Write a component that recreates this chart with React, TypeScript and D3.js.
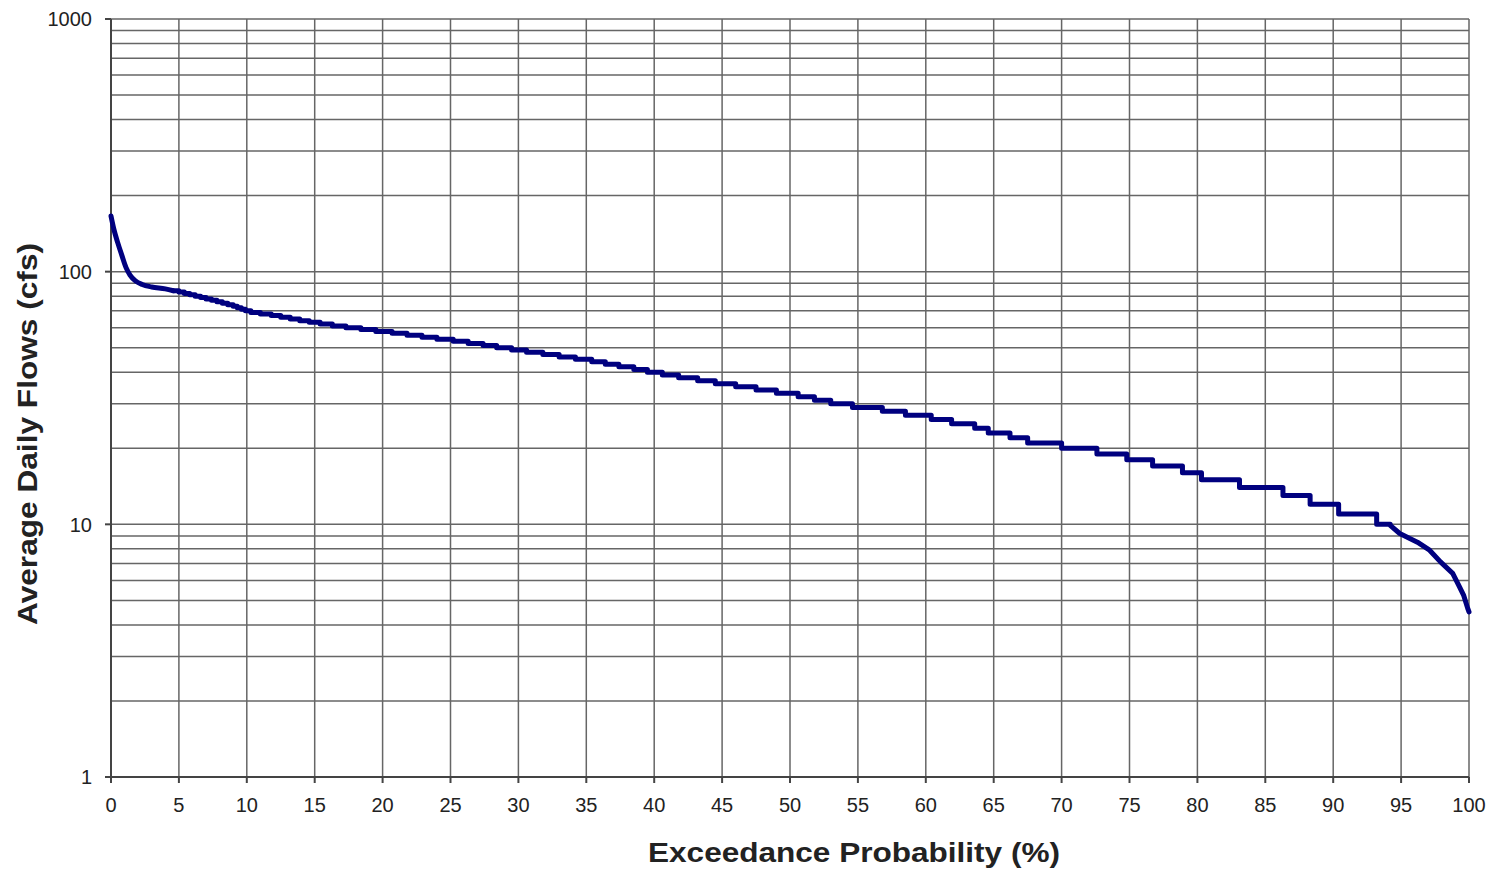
import React from "react";
import * as d3 from "d3";

// steep head of the curve (percent, cfs)
const headPct = [0, 0.2, 0.5, 0.8, 1.1, 1.4, 1.8, 2.3, 3.0, 4.0];
const headFlow = [166, 148, 130, 116, 104, 97, 92, 89, 87, 85.5];

// stepped part: integer flows and the exceedance (%) where each step starts
const stepFlow = [
  84, 83, 82, 81, 80, 79, 78, 77, 76, 75, 74, 73, 72, 71, 70, 69, 68, 67, 66, 65,
  64, 63, 62, 61, 60, 59, 58, 57, 56, 55, 54, 53, 52, 51, 50, 49, 48, 47, 46, 45,
  44, 43, 42, 41, 40, 39, 38, 37, 36, 35, 34, 33, 32, 31, 30, 29, 28, 27, 26, 25,
  24, 23, 22, 21, 20, 19, 18, 17, 16, 15, 14, 13, 12, 11, 10,
];
const stepStart = [
  4.6, 5.0, 5.4, 5.8, 6.2, 6.6, 7.0, 7.4, 7.8, 8.2, 8.6, 9.0, 9.3, 9.6, 9.9, 10.3, 11.0, 11.8, 12.5, 13.2,
  13.9, 14.6, 15.4, 16.3, 17.3, 18.4, 19.5, 20.7, 21.8, 22.9, 24.0, 25.2, 26.3, 27.4, 28.4, 29.5, 30.6, 31.8, 33.0, 34.2,
  35.4, 36.4, 37.4, 38.5, 39.5, 40.6, 41.8, 43.2, 44.5, 46.0, 47.5, 49.0, 50.6, 51.8, 53.0, 54.6, 56.8, 58.5, 60.4, 61.9,
  63.6, 64.6, 66.2, 67.5, 70.0, 72.6, 74.8, 76.7, 78.9, 80.3, 83.1, 86.3, 88.3, 90.4, 93.2,
];

// falling tail
const tailPct = [94.2, 94.9, 96.2, 97.1, 97.9, 98.8, 99.2, 99.6, 99.9, 100];
const tailFlow = [9.9, 9.2, 8.5, 7.9, 7.1, 6.4, 5.8, 5.25, 4.66, 4.5];

const xTicks = d3.range(0, 101, 5);
const yLabels = [1, 10, 100, 1000];

const W = 1495;
const H = 873;
const margin = { top: 19, right: 26, bottom: 96, left: 111 };

export default function App() {
  const x = d3.scaleLinear().domain([0, 100]).range([margin.left, W - margin.right]);
  const y = d3.scaleLog().domain([1, 1000]).range([H - margin.bottom, margin.top]);

  const head: [number, number][] = headPct.map((p, i) => [p, headFlow[i]]);
  head.push([stepStart[0], stepFlow[0]]);
  const pts: [number, number][] = [];
  stepFlow.forEach((q, i) => {
    const end = i + 1 < stepStart.length ? stepStart[i + 1] : tailPct[0];
    pts.push([stepStart[i], q]);
    pts.push([end, q]);
  });
  tailPct.forEach((p, i) => pts.push([p, tailFlow[i]]));

  const line = d3
    .line<[number, number]>()
    .x((d) => x(d[0]))
    .y((d) => y(d[1]));
  const smooth = d3
    .line<[number, number]>()
    .x((d) => x(d[0]))
    .y((d) => y(d[1]))
    .curve(d3.curveMonotoneX);

  // minor gridlines 1..9 per decade
  const hLines: number[] = [];
  [1, 10, 100].forEach((dec) => {
    for (let k = 1; k < 10; k++) hLines.push(dec * k);
  });
  hLines.push(1000);

  const x0 = x(0);
  const x1 = x(100);
  const y0 = y(1);
  const y1 = y(1000);

  return (
    <svg
      width={W}
      height={H}
      style={{ position: "absolute", left: 0, top: 0, background: "#fff" }}
      fontFamily="'Liberation Sans', Arial, sans-serif"
    >
      {/* horizontal grid */}
      <g stroke="#666" strokeWidth={1.5}>
        {hLines.map((v) => (
          <line key={v} x1={x0} x2={x1} y1={y(v)} y2={y(v)} />
        ))}
      </g>
      {/* vertical grid */}
      <g stroke="#666" strokeWidth={1.5}>
        {xTicks.map((t) => (
          <line key={t} x1={x(t)} x2={x(t)} y1={y1} y2={y0} />
        ))}
      </g>
      {/* axes */}
      <g stroke="#444" strokeWidth={2}>
        <line x1={x0} x2={x0} y1={y1} y2={y0} />
        <line x1={x0} x2={x1} y1={y0} y2={y0} />
        {yLabels.map((v) => (
          <line key={v} x1={x0 - 6} x2={x0} y1={y(v)} y2={y(v)} />
        ))}
        {xTicks.map((t) => (
          <line key={t} x1={x(t)} x2={x(t)} y1={y0} y2={y0 + 6} />
        ))}
      </g>
      {/* tick labels */}
      <g fill="#222" fontSize={20}>
        {yLabels.map((v) => (
          <text key={v} x={x0 - 19} y={y(v)} dy="0.36em" textAnchor="end">
            {v}
          </text>
        ))}
        {xTicks.map((t) => (
          <text key={t} x={x(t)} y={y0 + 35} textAnchor="middle">
            {t}
          </text>
        ))}
      </g>
      {/* curve */}
      <g fill="none" stroke="#00007f" strokeWidth={5} strokeLinejoin="round" strokeLinecap="round">
        <path d={smooth(head) || ""} />
        <path d={line(pts) || ""} />
      </g>
      {/* titles */}
      <text
        x={854}
        y={862}
        textAnchor="middle"
        fontSize={28}
        fontWeight="bold"
        fill="#222"
        textLength={412}
        lengthAdjust="spacingAndGlyphs"
      >
        Exceedance Probability (%)
      </text>
      <text
        transform="translate(37,434) rotate(-90)"
        textAnchor="middle"
        fontSize={28}
        fontWeight="bold"
        fill="#222"
        textLength={382}
        lengthAdjust="spacingAndGlyphs"
      >
        Average Daily Flows (cfs)
      </text>
    </svg>
  );
}
